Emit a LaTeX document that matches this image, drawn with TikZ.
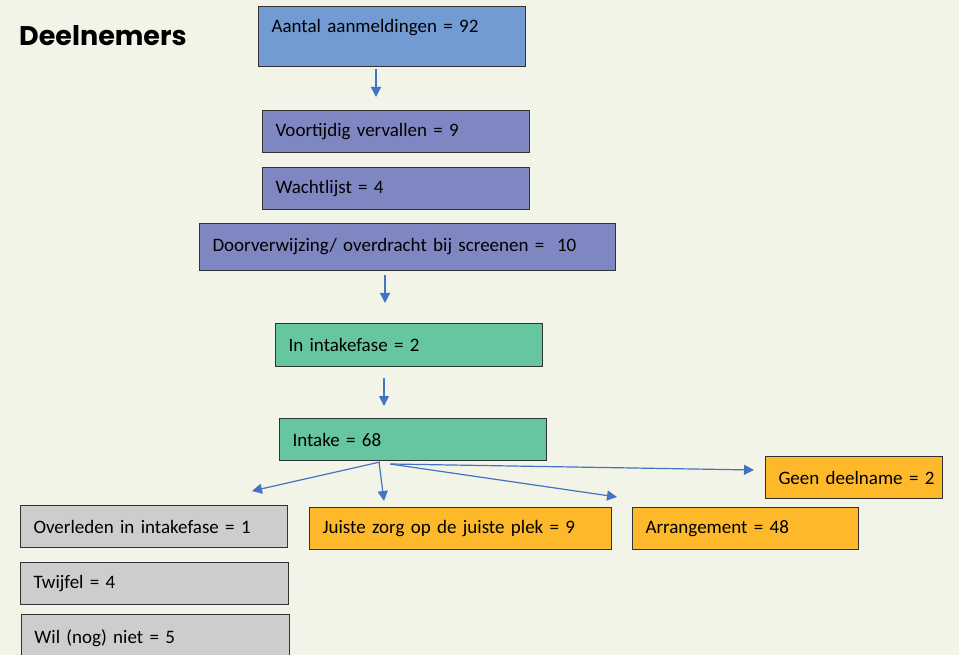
\documentclass[tikz,border=0pt]{standalone}
\usepackage{fontspec}
\setmainfont{Carlito}
\newfontfamily\titlefont{Poppins}
\usetikzlibrary{arrows.meta}
\definecolor{bgc}{HTML}{F3F4E8}
\definecolor{cblue}{HTML}{729BD3}
\definecolor{cpurple}{HTML}{7F87C2}
\definecolor{cgreen}{HTML}{66C6A0}
\definecolor{corange}{HTML}{FDB92A}
\definecolor{cgray}{HTML}{CCCDCD}
\definecolor{carrow}{HTML}{4472C4}
\definecolor{cborder}{HTML}{333333}
\tikzset{
  box/.style={draw=cborder, line width=1pt, anchor=north west, inner xsep=0pt, inner ysep=0pt,
    align=left, font=\fontsize{19}{22}\selectfont, text=black},
  flow/.style={draw=carrow, line width=1.2pt, -{Triangle[width=10pt,length=10pt]}},
}
\newcommand{\mybox}[7]{% name, x1, y1, x2, y2, colour, text
  \pgfmathsetmacro{\bw}{#4-#2}\pgfmathsetmacro{\bh}{#5-#3}
  \node[box, fill=#6, minimum width=\bw pt, minimum height=\bh pt, text width=\bw pt] (#1) at (#2,#3) {\hspace*{13pt}#7};}
\begin{document}
\begin{tikzpicture}[x=1pt,y=-1pt]
\fill[bgc] (0,0) rectangle (959,655);
\useasboundingbox (0,0) rectangle (959,655);
\node[anchor=west, inner sep=0pt, font=\titlefont\bfseries\fontsize{27}{30}\selectfont] (title) at (19,36) {Deelnemers};

\node[box, fill=cblue, minimum width=267pt, minimum height=60pt, text width=267pt, text height=13pt, text depth=21pt] (aantal) at (258,6) {\hspace*{13pt}Aantal aanmeldingen = 92};
\mybox{voor}{262}{110}{529}{152}{cpurple}{Voortijdig vervallen = 9}
\mybox{wacht}{262}{167}{529}{209}{cpurple}{Wachtlijst = 4}
\mybox{door}{199}{223}{615}{270}{cpurple}{Doorverwijzing/ overdracht bij screenen =\ \ 10}
\mybox{infase}{275}{323}{542}{366}{cgreen}{In intakefase = 2}
\mybox{intake}{279}{418}{546}{460}{cgreen}{Intake = 68}
\mybox{geen}{765}{456}{942}{498}{corange}{Geen deelname = 2}
\mybox{overl}{20}{505}{287}{547}{cgray}{Overleden in intakefase = 1}
\mybox{juiste}{309}{507}{611}{549}{corange}{Juiste zorg op de juiste plek = 9}
\mybox{arr}{632}{507}{858}{549}{corange}{Arrangement = 48}
\mybox{twijfel}{20}{562}{288}{604}{cgray}{Twijfel = 4}
\mybox{wil}{21}{614}{289}{662}{cgray}{Wil (nog) niet = 5}

\coordinate (a1s) at (376,69); \coordinate (a1e) at (376,97);
\coordinate (a2s) at (385,275); \coordinate (a2e) at (385,303);
\coordinate (a3s) at (384,378); \coordinate (a3e) at (384,406);
\coordinate (b1s) at (380,462); \coordinate (b1e) at (252,491);
\coordinate (b2s) at (379,462); \coordinate (b2e) at (384,501);
\coordinate (b3s) at (390,464); \coordinate (b3e) at (617,497);
\coordinate (b4s) at (391,464); \coordinate (b4e) at (754,470);
\draw[flow] (a1s) -- (a1e);
\draw[flow] (a2s) -- (a2e);
\draw[flow] (a3s) -- (a3e);
\draw[flow] (b1s) -- (b1e);
\draw[flow] (b2s) -- (b2e);
\draw[flow] (b3s) -- (b3e);
\draw[flow] (b4s) -- (b4e);
\end{tikzpicture}
\end{document}
